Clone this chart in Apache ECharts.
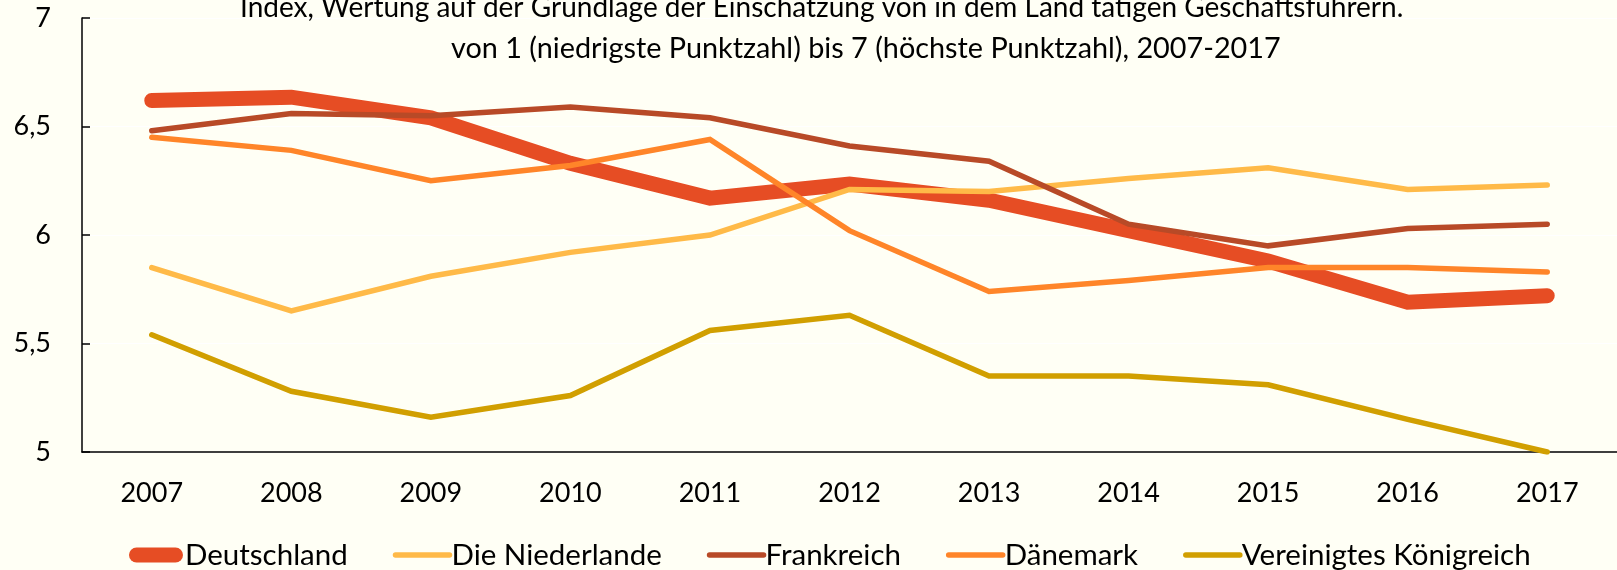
<!DOCTYPE html>
<html>
<head>
<meta charset="utf-8">
<script src="https://cdn.jsdelivr.net/npm/echarts@6/dist/echarts.min.js"></script>
<style>
  html, body { margin: 0; padding: 0; background: #FFFFF5; }
  #chart { width: 1617px; height: 570px; }
</style>
</head>
<body>
<div id="chart"></div>
<script>
const years = ['2007', '2008', '2009', '2010', '2011', '2012', '2013', '2014', '2015', '2016', '2017']
const deutschland = [6.62, 6.635, 6.54, 6.33, 6.17, 6.235, 6.16, 6.02, 5.88, 5.69, 5.72]
const niederlande = [5.85, 5.65, 5.81, 5.92, 6.0, 6.21, 6.2, 6.26, 6.31, 6.21, 6.23]
const frankreich = [6.48, 6.56, 6.55, 6.59, 6.54, 6.41, 6.34, 6.05, 5.95, 6.03, 6.05]
const daenemark = [6.45, 6.39, 6.25, 6.32, 6.44, 6.02, 5.74, 5.79, 5.85, 5.85, 5.83]
const vereinigtesKoenigreich = [5.54, 5.28, 5.16, 5.26, 5.56, 5.63, 5.35, 5.35, 5.31, 5.15, 5.0]
const seriesNames = ['Deutschland', 'Die Niederlande', 'Frankreich', 'Dänemark', 'Vereinigtes Königreich']
const titleLines = [
  'Index, Wertung auf der Grundlage der Einschätzung von in dem Land tätigen Geschäftsführern.',
  'von 1 (niedrigste Punktzahl) bis 7 (höchste Punktzahl), 2007-2017',
]

const font = 'Lato, "Open Sans", sans-serif'
const colors = ['#E64D24', '#FFBA48', '#B84A27', '#FF8529', '#D19F00']
const widths = [15, 5.5, 5.5, 5.5, 5.5]
const values = [deutschland, niederlande, frankreich, daenemark, vereinigtesKoenigreich]

const chart = echarts.init(document.getElementById('chart'))

const option = {
  backgroundColor: '#FFFFF5',
  animation: false,
  textStyle: { fontFamily: font, color: '#000' },
  title: [
    {
      text: titleLines[0],
      left: 240,
      top: -6,
      padding: 0,
      textStyle: { fontFamily: font, fontSize: 28, fontWeight: 'normal', color: '#000' },
    },
    {
      text: titleLines[1],
      left: 451,
      top: 34,
      padding: 0,
      textStyle: { fontFamily: font, fontSize: 28.8, fontWeight: 'normal', color: '#000' },
    },
  ],
  grid: {
    left: 82,
    right: 0,
    top: 18,
    bottom: 118,
    containLabel: false,
  },
  legend: {
    left: 124,
    top: 535,
    itemWidth: 54,
    itemHeight: 15,
    itemGap: 45,
    symbolKeepAspect: false,
    textStyle: { fontFamily: font, fontSize: 29.5, color: '#000', padding: [0, 0, 0, -3] },
    data: seriesNames.map((n, i) => {
      if (i === 0) {
        return {
          name: n,
          icon: 'path://M7.5,0 H46.5 A7.5,7.5 0 0 1 46.5,15 H7.5 A7.5,7.5 0 0 1 7.5,0 Z',
          itemStyle: { color: colors[i], opacity: 1 },
        }
      }
      return {
        name: n,
        itemStyle: { opacity: 0 },
        lineStyle: { width: widths[i], color: colors[i], cap: 'round' },
      }
    }),
  },
  xAxis: {
    type: 'category',
    data: years,
    boundaryGap: true,
    axisLine: { lineStyle: { color: '#000', width: 1.5 } },
    axisTick: { show: false },
    axisLabel: { fontFamily: font, fontSize: 27, color: '#000', margin: 28 },
  },
  yAxis: {
    type: 'value',
    min: 5,
    max: 7,
    interval: 0.5,
    axisLine: { show: true, lineStyle: { color: '#000', width: 1.5 } },
    axisTick: { show: true, inside: true, length: 8, lineStyle: { color: '#000', width: 1.5 } },
    splitLine: { show: true, lineStyle: { color: '#FFFFFF', width: 1 } },
    axisLabel: {
      fontFamily: font,
      fontSize: 27,
      color: '#000',
      margin: 31,
      formatter: v => String(v).replace('.', ','),
    },
  },
  series: seriesNames.map((n, i) => ({
    name: n,
    type: 'line',
    data: values[i],
    symbol: 'none',
    smooth: false,
    color: colors[i],
    lineStyle: { width: widths[i], color: colors[i], cap: 'round', join: 'miter' },
    z: 2 + i,
  })),
}

chart.setOption(option)
</script>
</body>
</html>
